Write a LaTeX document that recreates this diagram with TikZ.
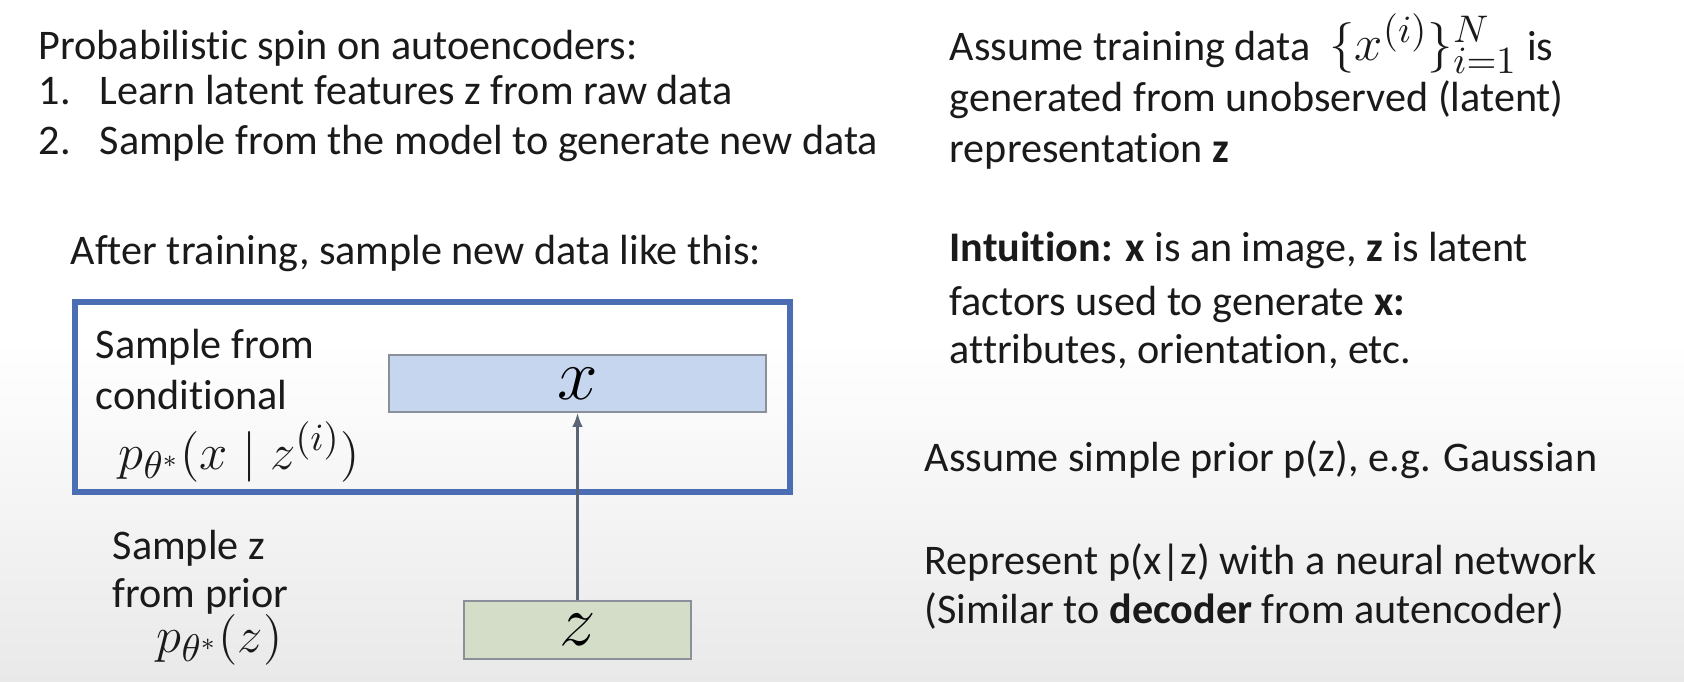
\documentclass[tikz,border=0pt]{standalone}
\usepackage[no-math]{fontspec}
\setmainfont{Carlito}[Ligatures=NoCommon]
\usetikzlibrary{arrows.meta}

\definecolor{textcol}{HTML}{1A1A1A}
\definecolor{framecol}{HTML}{4A6DB3}
\definecolor{boxline}{HTML}{8A8F99}
\definecolor{xfill}{HTML}{C6D6EF}
\definecolor{zfill}{HTML}{D3DDC8}
\definecolor{arrowcol}{HTML}{5A6676}
\definecolor{bggray}{HTML}{E9E9E9}

\begin{document}
\begin{tikzpicture}[
    txt/.style={anchor=base west, inner sep=0pt, text=textcol, font=\fontsize{12}{14}\selectfont},
    mathtxt/.style={txt, font=\fontsize{15}{18}\selectfont},
    sampleframe/.style={draw=framecol, line width=1.8pt},
    varbox/.style={rectangle, draw=boxline, line width=0.5pt, inner sep=0pt, font=\fontsize{21}{24}\selectfont},
    link/.style={-{Latex[length=4pt,width=3pt]}, draw=arrowcol, line width=0.6pt}
]
    % Background
    \useasboundingbox (0,0) rectangle (16.84,-6.82);
    \fill[white] (0,0) rectangle (16.84,-3.4);
    \shade[top color=white, bottom color=bggray] (0,-3.4) rectangle (16.84,-6.82);

    % Left text
    \node[txt] (title) at (0.38,-0.60) {Probabilistic spin on autoencoders:};
    \node[txt] (num1) at (0.38,-1.05) {1.};
    \node[txt] (item1) at (0.99,-1.05) {Learn latent features z from raw data};
    \node[txt] (num2) at (0.38,-1.55) {2.};
    \node[txt] (item2) at (0.99,-1.55) {Sample from the model to generate new data};
    \node[txt] (after) at (0.70,-2.65) {After training, sample new data like this:};

    % Sampling frame
    \draw[sampleframe] (0.75,-3.02) rectangle (7.90,-4.92);
    \node[txt] (cond1) at (0.95,-3.59) {Sample from};
    \node[txt] (cond2) at (0.95,-4.10) {conditional};
    \node[mathtxt] (condp) at (1.18,-4.69) {$p_{\theta^*}(x \mid z^{(i)})$};

    % Prior
    \node[txt] (prior1) at (1.12,-5.59) {Sample z};
    \node[txt] (prior2) at (1.12,-6.07) {from prior};
    \node[mathtxt] (priorp) at (1.56,-6.52) {$p_{\theta^*}(z)$};

    % Variables
    \node[varbox, fill=xfill, minimum width=3.77cm, minimum height=0.57cm] (x) at (5.775,-3.835) {$x$};
    \node[varbox, fill=zfill, minimum width=2.27cm, minimum height=0.58cm] (z) at (5.775,-6.30) {$z$};
    \draw[link] (z) -- (x);

    % Right text
    \node[txt] (assume) at (9.49,-0.61) {Assume training data \ {\fontsize{15}{18}\selectfont$\{x^{(i)}\}_{i=1}^{N}$} is};
    \node[txt] (gen) at (9.49,-1.12) {generated from unobserved (latent)};
    \node[txt] (repr) at (9.49,-1.63) {representation \textbf{z}};
    \node[txt] (intu) at (9.49,-2.62) {\textbf{Intuition:} \textbf{x} is an image, \textbf{z} is latent};
    \node[txt] (factors) at (9.49,-3.16) {factors used to generate \textbf{x:}};
    \node[txt] (attr) at (9.49,-3.64) {attributes, orientation, etc.};
    \node[txt] (simple) at (9.24,-4.72) {Assume simple prior p(z), e.g. Gaussian};
    \node[txt] (repnet) at (9.24,-5.74) {Represent p(x|z) with a neural network};
    \node[txt] (similar) at (9.24,-6.23) {(Similar to \textbf{decoder} from autencoder)};
\end{tikzpicture}
\end{document}
